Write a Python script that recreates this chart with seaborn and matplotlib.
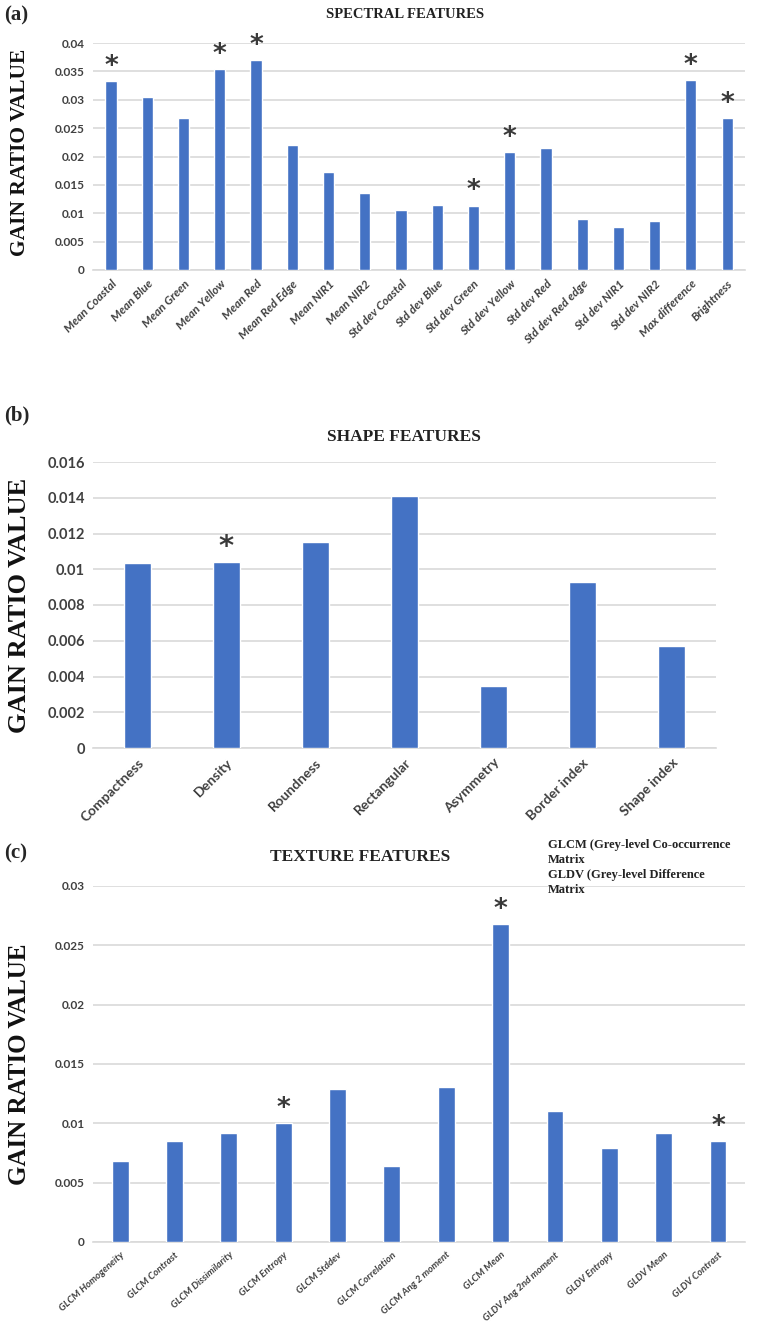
import matplotlib
matplotlib.use("Agg")
import matplotlib.pyplot as plt
import seaborn as sns
import pandas as pd

# ---- data ----
spectral_names = ['Mean Coastal', 'Mean Blue', 'Mean Green', 'Mean Yellow', 'Mean Red',
                  'Mean Red Edge', 'Mean NIR1', 'Mean NIR2', 'Std dev Coastal', 'Std dev Blue',
                  'Std dev Green', 'Std dev Yellow', 'Std dev Red', 'Std dev Red edge',
                  'Std dev NIR1', 'Std dev NIR2', 'Max difference', 'Brightness']
spectral_vals = [0.0333, 0.0304, 0.0267, 0.0354, 0.0370, 0.0220, 0.0172, 0.0135, 0.0106,
                 0.0114, 0.0113, 0.0208, 0.0215, 0.0090, 0.0075, 0.0087, 0.0334, 0.0267]
spectral_star = [1, 0, 0, 1, 1, 0, 0, 0, 0, 0, 1, 1, 0, 0, 0, 0, 1, 1]

shape_names = ['Compactness', 'Density', 'Roundness', 'Rectangular', 'Asymmetry',
               'Border index', 'Shape index']
shape_vals = [0.01035, 0.0104, 0.0115, 0.0141, 0.00345, 0.0093, 0.0057]
shape_star = [0, 1, 0, 0, 0, 0, 0]

texture_names = ['GLCM Homogeneity', 'GLCM Contrast', 'GLCM Dissimilarity', 'GLCM Entropy',
                 'GLCM Stddev', 'GLCM Correlation', 'GLCM Ang 2 moment', 'GLCM Mean',
                 'GLDV Ang 2nd moment', 'GLDV Entropy', 'GLDV Mean', 'GLDV Contrast']
texture_vals = [0.0068, 0.0085, 0.0092, 0.0100, 0.0129, 0.0064, 0.0131, 0.0268,
                0.0110, 0.0079, 0.0092, 0.0085]
texture_star = [0, 0, 0, 1, 0, 0, 0, 1, 0, 0, 0, 1]

spectral_ticks = [0, 0.005, 0.01, 0.015, 0.02, 0.025, 0.03, 0.035, 0.04]
shape_ticks = [0, 0.002, 0.004, 0.006, 0.008, 0.01, 0.012, 0.014, 0.016]
texture_ticks = [0, 0.005, 0.01, 0.015, 0.02, 0.025, 0.03]

note_lines = ['GLCM (Grey-level Co-occurrence', 'Matrix', 'GLDV (Grey-level Difference', 'Matrix']

BLUE = '#4472C4'
GRID = '#D9D9D9'
SERIF = 'Liberation Serif'
SANS = 'Lato'

sns.set_style('white')
plt.rcParams['font.family'] = ['Lato', 'DejaVu Sans']

fig = plt.figure(figsize=(7.62, 13.22), dpi=100)
H = 1322.0


def tick_fmt(v):
    return ('%.3f' % v).rstrip('0').rstrip('.')


def panel(rect, names, vals, stars, ticks, title, title_x, title_y, ylab_y,
          tick_fs, xlab_fs, italic, rot, ylab_fs, title_fs, star_fs):
    ax = fig.add_axes(rect)
    df = pd.DataFrame({'feature': names, 'value': vals})
    sns.barplot(data=df, x='feature', y='value', color=BLUE, saturation=1,
                width=0.31, ax=ax, zorder=3)
    ax.set_xlim(-0.5, len(names) - 0.5)
    ax.set_ylim(0, ticks[-1])
    ax.set_yticks(ticks)
    ax.set_yticklabels([tick_fmt(t) for t in ticks], fontsize=tick_fs, color='#404040',
                       fontfamily=SANS, fontweight='bold')
    ax.set_xticks(range(len(names)))
    ax.set_xticklabels(names, rotation=rot, ha='right', rotation_mode='anchor',
                       fontsize=xlab_fs, color='#404040', fontfamily=SANS,
                       fontstyle='italic' if italic else 'normal', fontweight='bold')
    ax.tick_params(axis='both', length=0, pad=6)
    ax.grid(axis='y', color=GRID, lw=1.2, zorder=0)
    for s in ['top', 'right', 'left']:
        ax.spines[s].set_visible(False)
    ax.spines['bottom'].set_color(GRID)
    ax.spines['bottom'].set_linewidth(1.2)
    ax.set_xlabel('')
    ax.set_ylabel('')
    # asterisks over the significant features
    for i, (v, st) in enumerate(zip(vals, stars)):
        if st:
            ax.annotate('*', (i, v), xytext=(0, 1), textcoords='offset points',
                        ha='center', va='bottom', fontsize=star_fs, color='#3a3a3a',
                        fontfamily='DejaVu Sans', fontweight='bold')
    fig.text(title_x / 762, 1 - title_y / H, title, ha='center', va='center',
             fontsize=title_fs, fontweight='bold', fontfamily=SERIF, color='#222222')
    fig.text(0.026, 1 - ylab_y / H, 'GAIN RATIO VALUE', rotation=90, ha='center',
             va='center', fontsize=ylab_fs, fontweight='bold', fontfamily=SERIF,
             color='#111111')
    return ax


panel([0.122, 1 - 270 / H, 0.856, 227 / H], spectral_names, spectral_vals, spectral_star,
      spectral_ticks, 'SPECTRAL FEATURES', 405, 15, 152,
      8.5, 8.5, True, 45, 15.5, 10.5, 19)

panel([0.122, 1 - 748 / H, 0.8176, 286 / H], shape_names, shape_vals, shape_star,
      shape_ticks, 'SHAPE FEATURES', 404, 437, 605,
      10.5, 10, False, 45, 19, 12.5, 21)

panel([0.122, 1 - 1242 / H, 0.856, 356 / H], texture_names, texture_vals, texture_star,
      texture_ticks, 'TEXTURE FEATURES', 360, 857, 1064,
      8.5, 7, True, 42, 18, 12.5, 19)

for letter, y in [('(a)', 15), ('(b)', 415), ('(c)', 853)]:
    fig.text(0.005, 1 - y / H, letter, ha='left', va='center', fontsize=15,
             fontweight='bold', fontfamily=SERIF)

for k, line in enumerate(note_lines):
    fig.text(548 / 762, 1 - (845 + k * 15) / H, line, ha='left', va='center',
             fontsize=9, fontweight='bold', fontfamily=SERIF, color='#222222')

fig.savefig('out.png', dpi=100, facecolor='white')
